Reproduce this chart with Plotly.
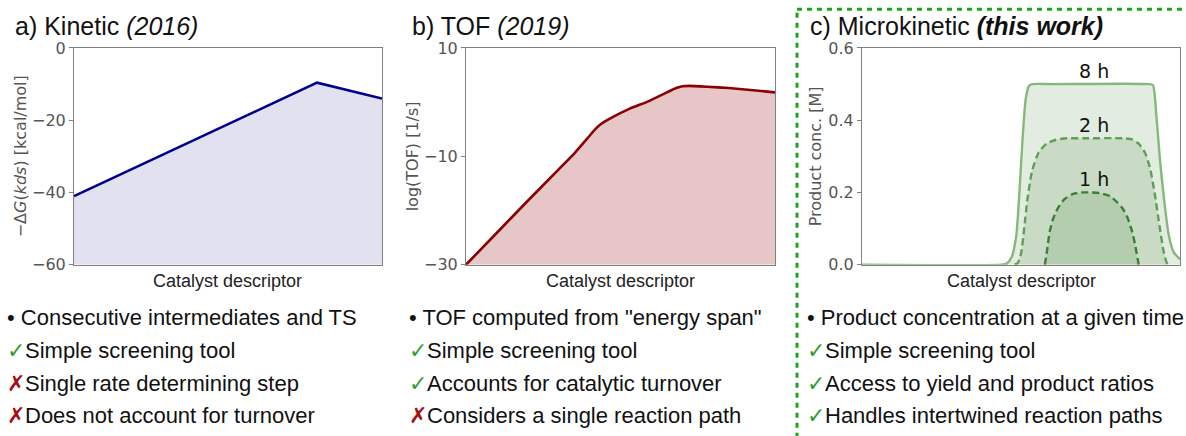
import plotly.graph_objects as go

# ---------------- data ----------------
# panel a: kinetic (kds) volcano
desc_a = [0.0, 0.789, 1.0]
dG_kds = [-41.0, -9.6, -14.0]
ya_ticks = [0, -20, -40, -60]
ya_range = [-60, 0]

# panel b: TOF (energy span)
desc_b = [0.0, 0.1, 0.2, 0.3, 0.353, 0.40, 0.42, 0.44, 0.47, 0.53, 0.59, 0.65, 0.68, 0.70,
          0.72, 0.78, 0.85, 0.92, 1.0]
log_tof = [-30.0, -24.1, -18.2, -12.4, -9.3, -6.2, -4.9, -3.9, -2.9, -1.2, 0.15, 1.8, 2.6, 2.95,
           3.0, 2.85, 2.6, 2.25, 1.8]
yb_ticks = [10, -10, -30]
yb_range = [-30, 10]

# panel c: microkinetic product concentration
desc_8h = [0.0, 0.44, 0.455, 0.47, 0.485, 0.495, 0.505, 0.515, 0.525, 0.535, 0.6, 0.9, 0.915,
           0.925, 0.937, 0.95, 0.965, 0.98, 1.0]
conc_8h = [0.0, 0.0, 0.003, 0.02, 0.08, 0.2, 0.35, 0.46, 0.495, 0.5, 0.5, 0.5, 0.497,
           0.42, 0.29, 0.18, 0.08, 0.035, 0.015]
desc_2h = [0.48, 0.49, 0.50, 0.51, 0.52, 0.535, 0.555, 0.58, 0.61, 0.645, 0.7, 0.82, 0.85,
           0.87, 0.89, 0.905, 0.92, 0.935, 0.95, 0.96]
conc_2h = [0.0, 0.005, 0.03, 0.1, 0.18, 0.26, 0.31, 0.335, 0.346, 0.35, 0.35, 0.35, 0.347,
           0.335, 0.31, 0.27, 0.2, 0.11, 0.03, 0.0]
desc_1h = [0.575, 0.582, 0.59, 0.60, 0.615, 0.635, 0.66, 0.69, 0.72, 0.75, 0.78, 0.80, 0.82,
           0.835, 0.85, 0.86, 0.87]
conc_1h = [0.0, 0.04, 0.09, 0.125, 0.155, 0.18, 0.195, 0.2, 0.2, 0.198, 0.19, 0.175, 0.155,
           0.13, 0.09, 0.05, 0.0]
yc_ticks = [0.0, 0.2, 0.4, 0.6]
yc_range = [0, 0.6]
time_labels = ["8 h", "2 h", "1 h"]
time_label_pos = [(0.73, 0.5), (0.73, 0.35), (0.73, 0.2)]

panel_titles = ["a) Kinetic <i>(2016)</i>", "b) TOF <i>(2019)</i>",
                "c) Microkinetic <b><i>(this work)</i></b>"]
y_titles = ["−Δ<i>G</i>(<i>kds</i>) [kcal/mol]", "log(TOF) [1/s]", "Product conc. [M]"]
x_title = "Catalyst descriptor"

CHECK = "<span style='color:#2ca02c'>✓</span>"
CROSS = "<span style='color:#a50f0f'>✗</span>"
BULLET = "• "
bullets_a = [BULLET + "Consecutive intermediates and TS", CHECK + "Simple screening tool",
             CROSS + "Single rate determining step", CROSS + "Does not account for turnover"]
bullets_b = [BULLET + "TOF computed from \"energy span\"", CHECK + "Simple screening tool",
             CHECK + "Accounts for catalytic turnover", CROSS + "Considers a single reaction path"]
bullets_c = [BULLET + "Product concentration at a given time", CHECK + "Simple screening tool",
             CHECK + "Access to yield and product ratios", CHECK + "Handles intertwined reaction paths"]

# ---------------- layout helpers ----------------
W, H = 1186, 436
# empirical vertical compensation of the capture
VS, VOFF = 0.962, 8.8


def px(x):
    return x / W


def py(y):
    return 1 - ((y - VOFF) / VS) / H


plot_x = [(74, 382), (466, 775), (862, 1180)]
plot_y = (48, 266)
ydom = [py(plot_y[1]), py(plot_y[0])]

fig = go.Figure()

# panel a
fig.add_trace(go.Scatter(x=desc_a, y=[ya_range[0]] * len(desc_a), mode="lines",
                         line=dict(width=0), hoverinfo="skip", xaxis="x", yaxis="y",
                         showlegend=False))
fig.add_trace(go.Scatter(x=desc_a, y=dG_kds, mode="lines", fill="tonexty",
                         fillcolor="#e1e1f0", line=dict(color="#00008b", width=2.6),
                         xaxis="x", yaxis="y", showlegend=False))

# panel b
fig.add_trace(go.Scatter(x=desc_b, y=[yb_range[0]] * len(desc_b), mode="lines",
                         line=dict(width=0), hoverinfo="skip", xaxis="x2", yaxis="y2",
                         showlegend=False))
fig.add_trace(go.Scatter(x=desc_b, y=log_tof, mode="lines", fill="tonexty",
                         fillcolor="#e6c6c7", line=dict(color="#8b0000", width=2.6, shape="spline",
                                                        smoothing=0.5),
                         xaxis="x2", yaxis="y2", showlegend=False))

# panel c
fill_c = "rgba(60,130,50,0.15)"
fig.add_trace(go.Scatter(x=desc_8h, y=conc_8h, mode="lines", fill="tozeroy", fillcolor=fill_c,
                         line=dict(color="#84b97b", width=2.4, shape="spline", smoothing=0.6),
                         xaxis="x3", yaxis="y3", showlegend=False))
fig.add_trace(go.Scatter(x=desc_2h, y=conc_2h, mode="lines", fill="tozeroy", fillcolor=fill_c,
                         line=dict(color="#5e9e55", width=2.4, dash="7px,4px", shape="spline",
                                   smoothing=0.6),
                         xaxis="x3", yaxis="y3", showlegend=False))
fig.add_trace(go.Scatter(x=desc_1h, y=conc_1h, mode="lines", fill="tozeroy", fillcolor=fill_c,
                         line=dict(color="#3a8033", width=2.4, dash="7px,4px", shape="spline",
                                   smoothing=0.6),
                         xaxis="x3", yaxis="y3", showlegend=False))

axis_common = dict(showline=True, mirror=True, linecolor="#808080", linewidth=1,
                   showgrid=False, zeroline=False)
tickfont = dict(family="DejaVu Sans", size=16, color="#555555")

layout = dict(width=W, height=H, margin=dict(l=0, r=0, t=0, b=0),
              paper_bgcolor="white", plot_bgcolor="white", showlegend=False)

yinfo = [(ya_range, ya_ticks, None), (yb_range, yb_ticks, None), (yc_range, yc_ticks, ".1f")]
for i in range(3):
    sx = "" if i == 0 else str(i + 1)
    layout["xaxis" + sx] = dict(domain=[px(plot_x[i][0]), px(plot_x[i][1])], range=[0, 1],
                                showticklabels=False, ticks="", anchor="y" + sx, **axis_common)
    rng, tv, fmt = yinfo[i]
    yd = dict(domain=ydom, range=rng, tickvals=tv, ticks="outside", ticklen=4,
              tickcolor="#808080", tickfont=tickfont, anchor="x" + sx, **axis_common)
    if fmt:
        yd["tickformat"] = fmt
    layout["yaxis" + sx] = yd

fig.update_layout(**layout)

ann = []
title_x = [13, 410, 808]
ytitle_x = [20, 412, 815]
for i in range(3):
    ann.append(dict(text=panel_titles[i], x=px(title_x[i]), y=py(26), xref="paper", yref="paper",
                    xanchor="left", yanchor="middle", showarrow=False,
                    font=dict(family="Liberation Sans, Arial", size=25, color="#111111")))
    ann.append(dict(text=y_titles[i], x=px(ytitle_x[i]), y=py(157), xref="paper", yref="paper",
                    xanchor="center", yanchor="middle", textangle=-90, showarrow=False,
                    font=dict(family="DejaVu Sans", size=16, color="#555555")))
    ann.append(dict(text=x_title, x=px((plot_x[i][0] + plot_x[i][1]) / 2), y=py(282),
                    xref="paper", yref="paper", xanchor="center", yanchor="middle",
                    showarrow=False,
                    font=dict(family="Liberation Sans, Arial", size=18, color="#222222")))

for lab, (lx, ly) in zip(time_labels, time_label_pos):
    ann.append(dict(text=lab, x=lx, y=ly, xref="x3", yref="y3", xanchor="center",
                    yanchor="bottom", showarrow=False,
                    font=dict(family="DejaVu Sans", size=19, color="#111111")))

row_y = [319, 352, 385, 418]
col_x = [5, 407, 805]
for cx, items in zip(col_x, [bullets_a, bullets_b, bullets_c]):
    for ry, t in zip(row_y, items):
        ann.append(dict(text=t, x=px(cx), y=py(ry), xref="paper", yref="paper",
                        xanchor="left", yanchor="middle", showarrow=False,
                        font=dict(family="Liberation Sans, Arial", size=22, color="#111111")))

fig.update_layout(annotations=ann)

# green dotted frame around panel c
frame_col = "#1aa51a"
fig.add_shape(type="line", xref="paper", yref="paper", x0=px(797), x1=px(797), y0=py(440),
              y1=py(9), line=dict(color=frame_col, width=3, dash="5px,5px"))
fig.add_shape(type="line", xref="paper", yref="paper", x0=px(797), x1=1, y0=py(9), y1=py(9),
              line=dict(color=frame_col, width=3, dash="5px,5px"))

fig.write_html("out.html", config={"displayModeBar": False},
               post_script=("document.body.style.margin='0';"
                            "document.body.style.padding='0';"
                            "document.body.style.overflow='hidden';"
                            "document.documentElement.style.overflow='hidden';"
                            "var d=document.getElementsByClassName('plotly-graph-div')[0];"
                            "d.style.position='fixed';d.style.left='0px';d.style.top='0px';"))
